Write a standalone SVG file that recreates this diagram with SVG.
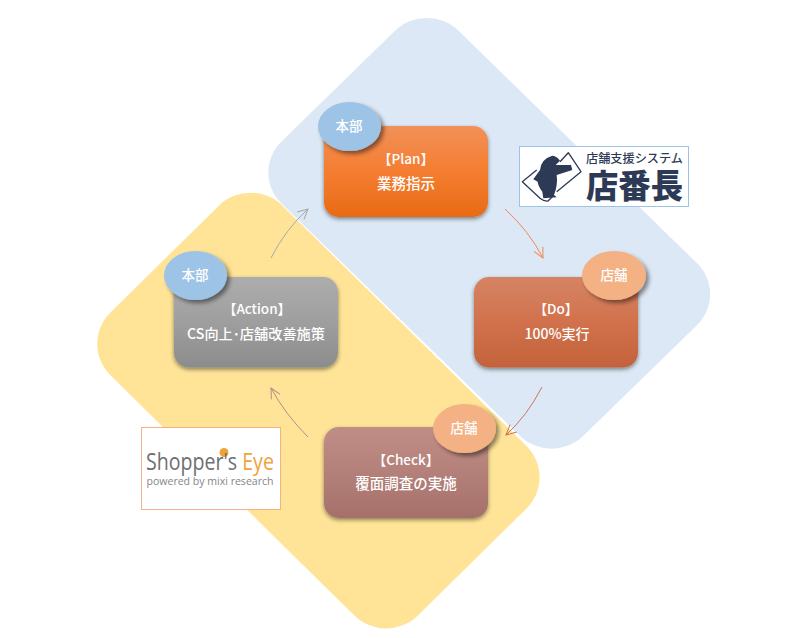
<svg xmlns="http://www.w3.org/2000/svg" width="794" height="638" viewBox="0 0 794 638">
<style>
text{font-family:"Noto Sans CJK JP","Noto Sans",sans-serif;fill:#fff;text-anchor:middle;font-size:13.5px;font-weight:500}
.box{filter:url(#sh)}
.bad{filter:url(#sh2)}
.conn{fill:none;stroke-width:1}
</style>
<defs>
<linearGradient id="gp" x1="0" y1="0" x2="0" y2="1"><stop offset="0" stop-color="#f19159"/><stop offset=".45" stop-color="#f57f34"/><stop offset="1" stop-color="#e96b14"/></linearGradient>
<linearGradient id="gd" x1="0" y1="0" x2="0" y2="1"><stop offset="0" stop-color="#d58464"/><stop offset=".45" stop-color="#d2734f"/><stop offset="1" stop-color="#c3633b"/></linearGradient>
<linearGradient id="gc" x1="0" y1="0" x2="0" y2="1"><stop offset="0" stop-color="#bf8e87"/><stop offset=".45" stop-color="#b5827b"/><stop offset="1" stop-color="#a5706a"/></linearGradient>
<linearGradient id="ga" x1="0" y1="0" x2="0" y2="1"><stop offset="0" stop-color="#adadad"/><stop offset=".45" stop-color="#a0a0a0"/><stop offset="1" stop-color="#8c8c8c"/></linearGradient>
<filter id="sh" x="-10%" y="-10%" width="120%" height="125%"><feDropShadow dx="0" dy="2" stdDeviation="2" flood-color="#000" flood-opacity=".45"/></filter>
<filter id="sh2" x="-20%" y="-20%" width="145%" height="145%"><feDropShadow dx="3" dy="3" stdDeviation="2" flood-color="#000" flood-opacity=".45"/></filter>
<marker id="ma" viewBox="0 0 12 12" refX="11" refY="6" markerWidth="12" markerHeight="12" orient="auto" markerUnits="userSpaceOnUse"><path d="M1 1L11 6L1 11" fill="none" stroke="context-stroke" stroke-width="1"/></marker>
</defs>
<g id="bg">
<rect x="-213.500" y="-125.250" width="427" height="250.500" rx="45" transform="translate(489.200 233.300) scale(1 .975) rotate(45)" fill="#dce8f5"/>
<rect x="-217.500" y="-121.700" width="435" height="243.400" rx="45" transform="translate(318.400 410.600) scale(1 .985) rotate(45)" fill="#ffe498"/>
</g>
<g id="connectors" class="conn">
<path d="M505 209Q529 231 543 258" stroke="#ef8a55" marker-end="url(#ma)"/>
<path d="M542 387Q527 416 506 435" stroke="#cb7559" marker-end="url(#ma)"/>
<path d="M308 437Q285 414 271 388" stroke="#b58c86" marker-end="url(#ma)"/>
<path d="M271 258Q285 230 308 209" stroke="#a8a8a8" marker-end="url(#ma)"/>
</g>
<g id="plan">
<rect class="box" x="324" y="126" width="164" height="91" rx="15" fill="url(#gp)"/>
<ellipse class="bad" cx="349.500" cy="126.500" rx="31.500" ry="24.500" fill="#9dc3e6"/>
<text x="349" y="131">本部</text>
<text x="406" y="164">【Plan】</text>
<text x="406" y="189" style="font-size:14.500px">業務指示</text>
</g>
<g id="do">
<rect class="box" x="474" y="277" width="164" height="90.500" rx="15" fill="url(#gd)"/>
<ellipse class="bad" cx="614" cy="275.500" rx="32" ry="24.500" fill="#f4b183"/>
<text x="614" y="280">店舗</text>
<text x="556" y="314">【Do】</text>
<text x="557" y="339" style="font-size:14px">100%実行</text>
</g>
<g id="check">
<rect class="box" x="324" y="427" width="164" height="91" rx="15" fill="url(#gc)"/>
<ellipse class="bad" cx="464.500" cy="428.500" rx="31.500" ry="24.500" fill="#f4b183"/>
<text x="464" y="433">店舗</text>
<text x="406" y="465">【Check】</text>
<text x="406" y="489" style="font-size:14.500px">覆面調査の実施</text>
</g>
<g id="action">
<rect class="box" x="174" y="277" width="164" height="90.500" rx="15" fill="url(#ga)"/>
<ellipse class="bad" cx="195.500" cy="275.500" rx="31.500" ry="24.500" fill="#9dc3e6"/>
<text x="195" y="280">本部</text>
<text x="257" y="314">【Action】</text>
<text x="256" y="339" style="font-size:14.200px">CS向上･店舗改善施策</text>
</g>
<g id="logo-tenbancho">
<rect x="519.500" y="146.500" width="169" height="60" fill="#fff" stroke="#9dc3e6"/>
<path d="M560 161.700L568.300 152.700L581 171.700L556.700 191.700M536.700 170L522.300 181.700L540 198.300Q544 201.500 548 201L553 196" fill="none" stroke="#2c3a55" stroke-width="1.300" stroke-linejoin="round"/>
<path d="M552.300 155.700Q557 156 560 160.700L555.700 165L571 165L572.300 170L556.700 175Q558 185 554 195L556.700 197.300L543.300 198.300L542.300 191.700Q538 186 537.700 181.700L533.300 179.300L540 170Q541 159 552.300 155.700Z" fill="#2c3a55"/>
<text x="634.500" y="163" style="fill:#2c3a55;font-size:12px;font-weight:500" textLength="97" lengthAdjust="spacingAndGlyphs">店舗支援システム</text>
<text x="634.500" y="198" style="fill:#2c3a55;font-size:33px;font-weight:900" textLength="97" lengthAdjust="spacingAndGlyphs">店番長</text>
</g>
<g id="logo-shoppers-eye">
<rect x="141.500" y="427.500" width="139" height="82" fill="#fff" stroke="#f4b183"/>
<circle cx="224" cy="452.500" r="4.500" fill="#eda33a"/>
<text transform="translate(146 470) scale(.8 1)" style="fill:#6e6f72;font-size:24.500px;font-family:'Open Sans',sans-serif;font-weight:500;text-anchor:start">Shopper's <tspan style="fill:#eda33a">Eye</tspan></text>
<text x="210" y="485" style="fill:#85868a;font-size:11px;font-family:'Open Sans',sans-serif;font-weight:400" textLength="127" lengthAdjust="spacingAndGlyphs">powered by mixi research</text>
</g>
</svg>
